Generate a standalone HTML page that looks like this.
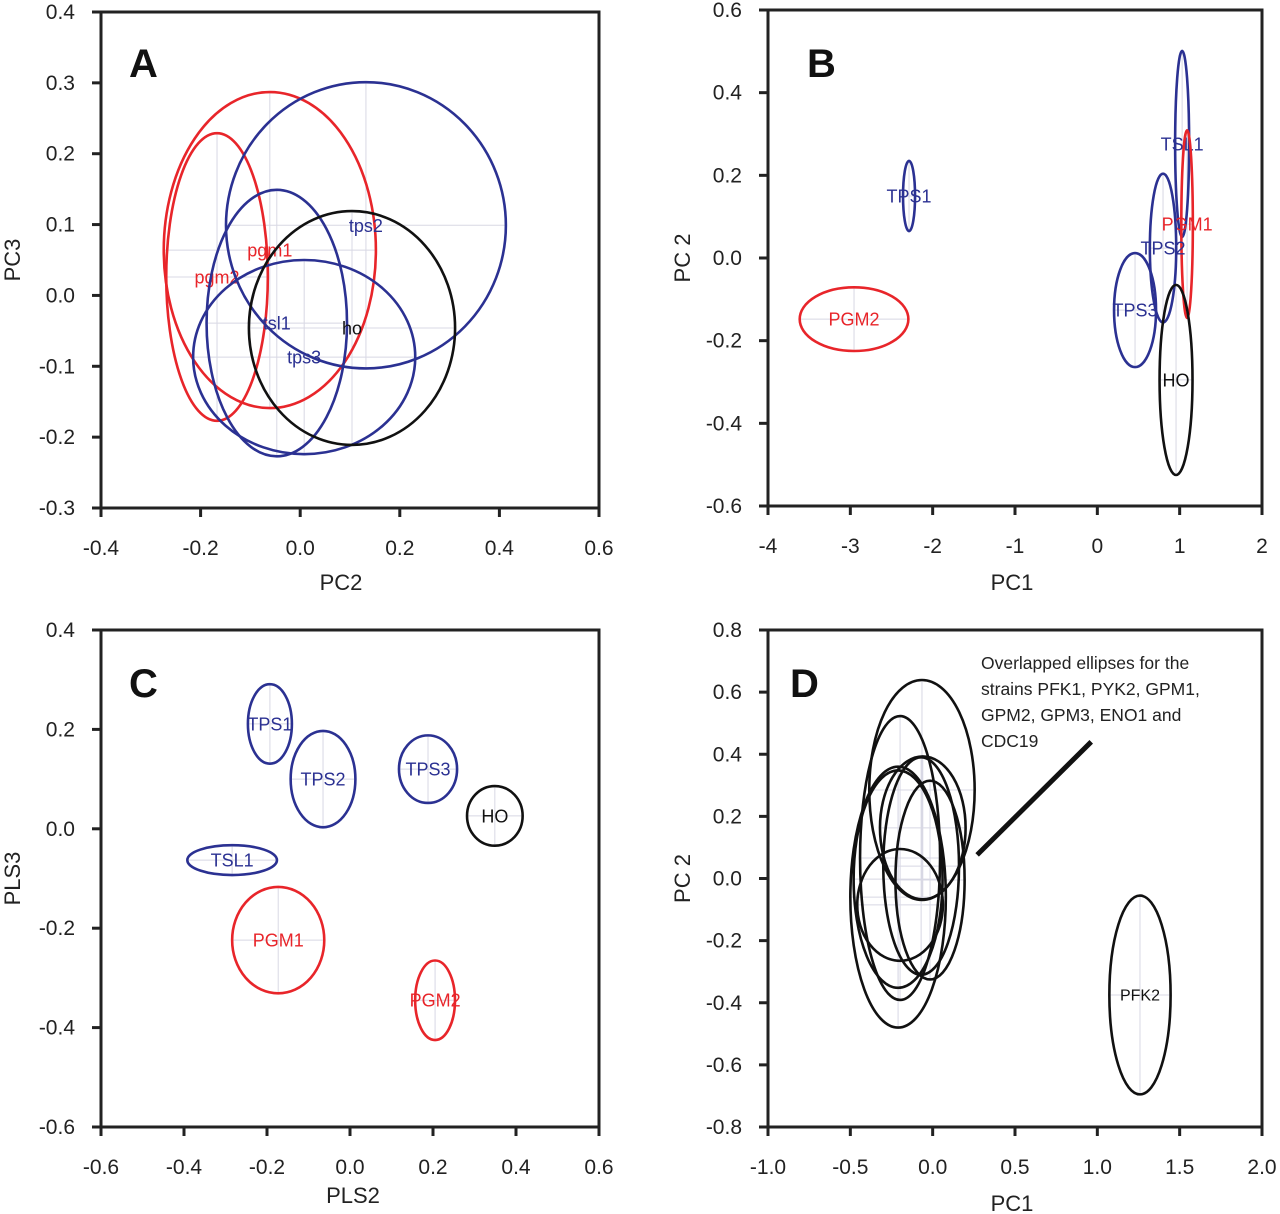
<!DOCTYPE html>
<html><head><meta charset="utf-8"><style>
html,body{margin:0;padding:0;background:#fff;}
svg{display:block;font-family:"Liberation Sans",sans-serif;}
</style></head><body>
<svg id="fig" width="1280" height="1214" viewBox="0 0 1280 1214"></svg>
<script>
// Panel A data
const aLabels=["pgm1","pgm2","tps2","tsl1","tps3","ho"];
const aCx=[-0.061,-0.167,0.132,-0.047,0.008,0.104];
const aCy=[0.064,0.026,0.099,-0.039,-0.087,-0.046];
const aRx=[0.213,0.102,0.281,0.141,0.223,0.207];
const aRy=[0.223,0.203,0.202,0.188,0.137,0.165];
const aGroup=["r","r","b","b","b","k"];
const aXTicks=[-0.4,-0.2,0.0,0.2,0.4,0.6];
const aYTicks=[-0.3,-0.2,-0.1,0.0,0.1,0.2,0.3,0.4];
// Panel B data
const bLabels=["TPS1","PGM2","TSL1","PGM1","TPS2","TPS3","HO"];
const bCx=[-2.287,-2.955,1.03,1.09,0.798,0.458,0.956];
const bCy=[0.150,-0.148,0.276,0.082,0.024,-0.126,-0.295];
const bRx=[0.073,0.66,0.085,0.07,0.16,0.255,0.2];
const bRy=[0.085,0.077,0.225,0.227,0.18,0.138,0.23];
const bGroup=["b","r","b","r","b","b","k"];
const bXTicks=[-4,-3,-2,-1,0,1,2];
const bYTicks=[-0.6,-0.4,-0.2,0.0,0.2,0.4,0.6];
// Panel C data
const cLabels=["TPS1","TPS2","TPS3","HO","TSL1","PGM1","PGM2"];
const cCx=[-0.193,-0.065,0.188,0.349,-0.284,-0.173,0.205];
const cCy=[0.211,0.1,0.12,0.026,-0.063,-0.224,-0.345];
const cRx=[0.053,0.078,0.07,0.067,0.108,0.111,0.048];
const cRy=[0.08,0.097,0.068,0.06,0.03,0.107,0.08];
const cGroup=["b","b","b","k","b","r","r"];
const cXTicks=[-0.6,-0.4,-0.2,0.0,0.2,0.4,0.6];
const cYTicks=[-0.6,-0.4,-0.2,0.0,0.2,0.4];
// Panel D data
const dLabels=["","","","","","","","","PFK2"];
const dCx=[-0.065,-0.198,-0.21,-0.21,-0.07,-0.016,-0.198,-0.06,1.259];
const dCy=[0.285,0.066,-0.06,-0.002,0.04,-0.005,-0.085,0.163,-0.375];
const dRx=[0.32,0.243,0.29,0.27,0.23,0.21,0.26,0.26,0.186];
const dRy=[0.354,0.457,0.42,0.35,0.35,0.32,0.18,0.23,0.32];
const dGroup=["k","k","k","k","k","k","k","k","k"];
const dXTicks=[-1.0,-0.5,0.0,0.5,1.0,1.5,2.0];
const dYTicks=[-0.8,-0.6,-0.4,-0.2,0.0,0.2,0.4,0.6,0.8];
const dLineX=[0.27,0.963];
const dLineY=[0.076,0.44];

const NS="http://www.w3.org/2000/svg";
const svg=document.getElementById('fig');
const COL={r:"#e8252a",b:"#2b3192",k:"#111"};
function mk(tag,attrs,parent){const e=document.createElementNS(NS,tag);for(const k in attrs)e.setAttribute(k,attrs[k]);(parent||svg).appendChild(e);return e;}

function panel(id,box,xd,yd,xt,yt,dec,xTitle,yTitle,letter,letterPos,labels,cx,cy,rx,ry,grp,fs){
  const g=mk('g',{});
  
  
  const X=v=>box.l+(v-xd[0])/(xd[1]-xd[0])*(box.r-box.l);
  const Y=v=>box.b-(v-yd[0])/(yd[1]-yd[0])*(box.b-box.t);
  const SX=v=>v/(xd[1]-xd[0])*(box.r-box.l);
  const SY=v=>v/(yd[1]-yd[0])*(box.b-box.t);
  // crosshair grid
  for(let i=0;i<cx.length;i++){
    const gl=mk('path',{d:`M${X(cx[i]-rx[i])},${Y(cy[i])}H${X(cx[i]+rx[i])}M${X(cx[i])},${Y(cy[i]+ry[i])}V${Y(cy[i]-ry[i])}`,stroke:"#d8d8e4","stroke-width":1,fill:"none"},g);
    
    
  }
  for(let i=0;i<cx.length;i++){
    const e=mk('ellipse',{cx:X(cx[i]),cy:Y(cy[i]),rx:SX(rx[i]),ry:SY(ry[i]),fill:"none",stroke:COL[grp[i]],"stroke-width":2.6},g);
    
    
    if(labels[i]){
      const t=mk('text',{x:X(cx[i]),y:Y(cy[i])+fs*0.36,"text-anchor":"middle","font-size":fs,fill:COL[grp[i]]},g);
      t.textContent=labels[i];
      
      
    }
  }
  const frame=mk('rect',{x:box.l,y:box.t,width:box.r-box.l,height:box.b-box.t,fill:"none",stroke:"#222","stroke-width":3},g);
  
  
  for(const v of xt){
    const x=X(v);
    mk('line',{x1:x,x2:x,y1:box.b,y2:box.b+9,stroke:"#222","stroke-width":3},g);
    const t=mk('text',{x:x,y:box.b+47,"text-anchor":"middle","font-size":21,fill:"#222"},g);
    t.textContent=v.toFixed(dec[0]);
    
    
  }
  for(const v of yt){
    const y=Y(v);
    mk('line',{x1:box.l-9,x2:box.l,y1:y,y2:y,stroke:"#222","stroke-width":3},g);
    const t=mk('text',{x:box.l-26,y:y+7,"text-anchor":"end","font-size":21,fill:"#222"},g);
    t.textContent=v.toFixed(dec[1]);
    
    
  }
  const xt2=mk('text',{x:(box.l+box.r)/2+xTitle[1],y:box.b+xTitle[2],"text-anchor":"middle","font-size":22,fill:"#222"},g);
  xt2.textContent=xTitle[0];
  
  
  const yx=yTitle[1], yy=(box.t+box.b)/2+yTitle[2];
  const yt2=mk('text',{x:yx,y:yy,"text-anchor":"middle","font-size":22,fill:"#222",transform:`rotate(-90 ${yx} ${yy})`},g);
  yt2.textContent=yTitle[0];
  
  
  const L=mk('text',{x:letterPos[0],y:letterPos[1],"font-size":40,"font-weight":"bold",fill:"#111"},g);
  L.textContent=letter;
  
  
  return {X,Y,g};
}

panel('a',{l:101,r:599,t:12,b:508},[-0.4,0.6],[-0.3,0.4],aXTicks,aYTicks,[1,1],["PC2",-9,82],["PC3",20,0],"A",[129,77],aLabels,aCx,aCy,aRx,aRy,aGroup,18);
panel('b',{l:768,r:1262,t:10,b:506},[-4,2],[-0.6,0.6],bXTicks,bYTicks,[0,1],["PC1",-3,84],["PC 2",690,0],"B",[807,77],bLabels,bCx,bCy,bRx,bRy,bGroup,18);
panel('c',{l:101,r:599,t:630,b:1127},[-0.6,0.6],[-0.6,0.4],cXTicks,cYTicks,[1,1],["PLS2",3,76],["PLS3",20,0],"C",[129,697],cLabels,cCx,cCy,cRx,cRy,cGroup,18);
const pd=panel('d',{l:768,r:1262,t:630,b:1127},[-1,2],[-0.8,0.8],dXTicks,dYTicks,[1,1],["PC1",-3,84],["PC 2",690,0],"D",[790,697],dLabels,dCx,dCy,dRx,dRy,dGroup,16);
const ln=mk('line',{x1:pd.X(dLineX[0]),y1:pd.Y(dLineY[0]),x2:pd.X(dLineX[1]),y2:pd.Y(dLineY[1]),stroke:"#111","stroke-width":5},pd.g);


const noteLines=["Overlapped ellipses for the","strains PFK1, PYK2, GPM1,","GPM2, GPM3, ENO1 and","CDC19"];
noteLines.forEach((s,i)=>{
  const t=mk('text',{x:981,y:669+i*26,"font-size":17.5,fill:"#222"},pd.g);
  t.textContent=s;
  
  
});
</script>
</body></html>
